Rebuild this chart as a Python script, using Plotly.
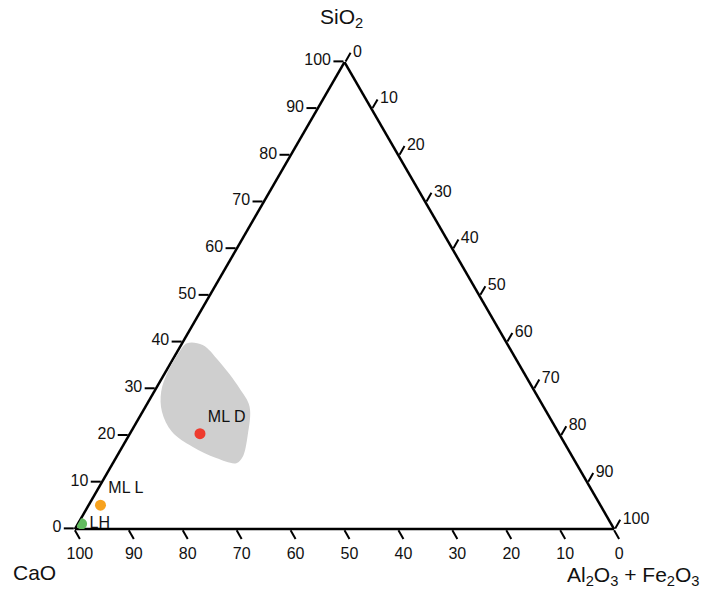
import plotly.graph_objects as go

# Sample points (SiO2, CaO, Al2O3+Fe2O3), percent
sample_names = ["ML D", "ML L", "LH"]
sio2 = [20.4, 5.1, 1.1]
cao = [66.6, 92.7, 98.2]
alfe = [13.0, 2.2, 0.7]
sample_colors = ["#ee3b2e", "#f7a21e", "#62bb5f"]
label_positions = ["top right", "top right", "middle right"]

# Grey field outline (SiO2, CaO, Al2O3+Fe2O3)
field_sio2 = [39.8, 39.4, 35.8, 30.2, 26.2, 20.1, 15.4, 14.1, 15.2, 17.6, 20.8, 25.1, 29.4, 33.7, 37.9, 39.8]
field_cao = [59.3, 56.6, 55.3, 54.4, 54.5, 57.9, 61.2, 63.0, 66.2, 69.4, 71.6, 71.3, 69.3, 65.9, 61.7, 59.3]
field_alfe = [0.9, 4.0, 8.9, 15.4, 19.3, 22.0, 23.4, 22.9, 18.6, 13.0, 7.6, 3.6, 1.3, 0.4, 0.4, 0.9]

# Axis titles
title_a = "SiO<sub>2</sub>"
title_b = "CaO"
title_c = "Al<sub>2</sub>O<sub>3</sub> + Fe<sub>2</sub>O<sub>3</sub>"

FONT = "Liberation Sans, Arial, sans-serif"
W, H = 705, 592
ML, MR, MT, MB = 60, 76, 62, 63


def px_to_paper(x, y):
    return (x - ML) / (W - ML - MR), (H - MB - y) / (H - MT - MB)


fig = go.Figure()
fig.add_trace(go.Scatterternary(
    a=field_sio2, b=field_cao, c=field_alfe,
    mode="lines", fill="toself", fillcolor="#cfcfcf",
    line=dict(width=0, color="#cfcfcf", shape="spline", smoothing=1.0),
    hoverinfo="skip", showlegend=False,
))
fig.add_trace(go.Scatterternary(
    a=sio2, b=cao, c=alfe, text=sample_names,
    mode="markers+text", textposition=label_positions,
    textfont=dict(family=FONT, size=16, color="#111111"),
    marker=dict(size=11, color=sample_colors, line=dict(width=0)),
    showlegend=False,
))

axis_common = dict(
    tick0=0, dtick=10, ticks="outside", ticklen=10, tickwidth=2,
    tickcolor="black", linecolor="black", linewidth=2.5,
    showgrid=False, showline=True, layer="below traces",
    tickfont=dict(family=FONT, size=16, color="#111111"),
    title=dict(text=""),
)

annotations = []
for text, (px, py) in [(title_a, (341, 18)), (title_b, (34, 572)), (title_c, (633, 576))]:
    xp, yp = px_to_paper(px, py)
    annotations.append(dict(
        text=text, x=xp, y=yp, xref="paper", yref="paper",
        xanchor="center", yanchor="middle", showarrow=False,
        font=dict(family=FONT, size=21, color="#111111"),
    ))

fig.update_layout(
    width=W, height=H,
    paper_bgcolor="white",
    margin=dict(l=ML, r=MR, t=MT, b=MB),
    font=dict(family=FONT, size=16, color="#111111"),
    annotations=annotations,
    ternary=dict(
        sum=100,
        bgcolor="white",
        aaxis=axis_common,
        baxis=axis_common,
        caxis=axis_common,
    ),
)

fig.write_html(
    "out.html",
    config={"displayModeBar": False},
    post_script="document.body.style.margin='0px';document.body.style.overflow='hidden';",
)
